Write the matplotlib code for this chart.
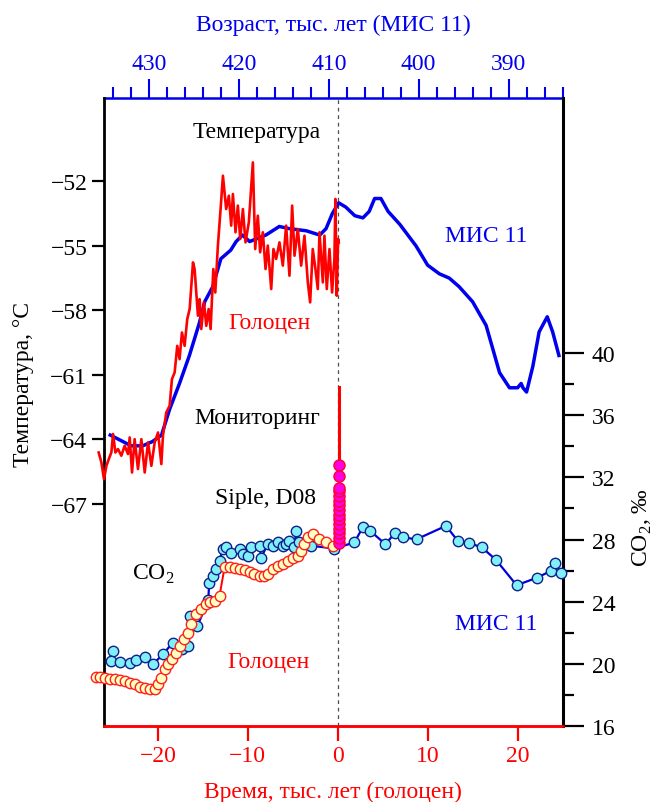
import matplotlib
matplotlib.use('Agg')
import matplotlib.pyplot as plt
from matplotlib.ticker import MultipleLocator, FixedLocator

plt.rcParams['font.family'] = ['Liberation Serif', 'DejaVu Serif']
plt.rcParams['mathtext.fontset'] = 'custom'
plt.rcParams['mathtext.rm'] = 'Liberation Serif'
plt.rcParams['axes.unicode_minus'] = True

# температура МИС 11 (синяя линия), x - тыс. лет относительно голоцена
t_mis_x = [-25.3, -23.9, -23.0, -21.7, -20.6, -19.6, -18.7, -17.6, -16.5, -15.4, -14.8, -13.9,
           -13.0, -11.9, -11.3, -10.6, -9.8, -8.0, -6.5, -5.4, -3.5, -2.0, -1.3, -0.6, 0.1,
           0.9, 1.9, 2.8, 3.5, 4.1, 4.8, 5.6, 6.9, 8.7, 10.0, 11.3, 12.4, 13.5, 15.0, 16.5,
           18.0, 19.1, 20.0, 20.4, 20.6, 21.0, 21.7, 22.4, 23.3, 23.9, 24.6]
t_mis_y = [-63.8, -64.1, -64.3, -64.3, -64.1, -63.8, -62.6, -61.4, -60.1, -58.6, -57.6, -56.9,
           -55.6, -55.2, -54.8, -54.5, -54.8, -54.5, -54.1, -54.2, -54.3, -54.5, -54.2, -53.5, -53.0,
           -53.2, -53.6, -53.7, -53.4, -52.8, -52.8, -53.4, -54.0, -55.0, -55.9, -56.3, -56.5, -56.9,
           -57.6, -58.7, -60.9, -61.6, -61.6, -61.4, -61.6, -61.8, -60.6, -59.0, -58.3, -59.0, -60.1]

# температура голоцен (красная линия)
t_hol_x = [-26.59, -26.29, -26.0, -25.73, -25.47, -25.18, -24.99, -24.73, -24.44, -24.07, -23.70,
           -23.33, -23.14, -22.88, -22.59, -22.22, -21.84, -21.47, -21.10, -20.73, -20.36, -19.99,
           -19.62, -19.44, -19.07, -18.70, -18.44, -18.14, -17.85, -17.59, -17.33, -17.03, -16.74,
           -16.47, -16.10, -15.92, -15.55, -15.36, -15.18, -14.88, -14.62, -14.36, -14.14, -13.84,
           -13.62, -13.33, -13.03, -12.77, -12.41, -12.11, -11.85, -11.66, -11.37, -11.11, -10.85,
           -10.55, -10.26, -9.89, -9.44, -9.18, -8.89, -8.63, -8.33, -8.03, -7.78, -7.40, -7.15,
           -6.85, -6.48, -6.11, -5.74, -5.37, -5.07, -4.81, -4.44, -4.07, -3.70, -3.33, -3.07,
           -2.78, -2.48, -2.22, -2.03, -1.66, -1.48, -1.22, -0.92, -0.63, -0.37, -0.26, -0.11,
           0.04, 0.11]
t_hol_y = [-64.61, -65.07, -65.85, -65.23, -64.92, -64.61, -63.75, -64.61, -64.45, -64.76, -64.30,
           -64.68, -63.91, -65.54, -63.99, -65.38, -63.99, -65.54, -64.14, -65.23, -64.14, -63.68,
           -65.15, -63.83, -62.75, -62.44, -61.20, -60.89, -59.65, -60.27, -59.03, -59.65, -58.41,
           -57.94, -55.77, -56.08, -58.25, -57.48, -58.87, -57.63, -58.72, -57.94, -58.87, -56.08,
           -57.17, -54.99, -53.29, -51.74, -53.29, -52.67, -54.06, -52.59, -54.37, -53.13, -54.68,
           -53.29, -54.84, -53.91, -51.12, -55.15, -53.60, -55.30, -54.37, -56.08, -54.99, -57.01,
           -55.15, -55.61, -54.84, -55.92, -54.06, -56.39, -53.13, -55.46, -54.22, -55.92, -54.53,
           -56.70, -57.63, -55.15, -56.08, -57.01, -54.37, -56.70, -54.53, -57.01, -55.15, -57.17,
           -55.61, -52.82, -57.32, -54.68, -54.84]

# CO2 МИС 11 (голубые кружки)
co2_mis_x = [-25.0, -25.18, -24.25, -23.14, -22.40, -21.47, -20.55, -19.44, -18.33, -17.33, -16.66,
             -16.4, -15.6, -14.4, -14.3, -13.9, -13.5, -13.15, -12.8, -12.4, -11.85, -10.92, -10.55,
             -10.0, -9.63, -8.70, -8.52, -7.78, -7.22, -6.66, -6.11, -5.74, -5.37, -4.81, -4.63,
             -4.26, -2.96, -0.37, 1.85, 2.78, 3.60, 5.30, 6.41, 7.23, 8.78, 12.04, 13.34, 14.63,
             16.04, 17.60, 19.89, 22.11, 23.71, 24.19, 24.82]
co2_mis_y = [20.83, 20.19, 20.12, 20.08, 20.25, 20.47, 19.97, 20.62, 21.37, 20.94, 21.16,
             23.1, 22.45, 24.1, 25.2, 25.66, 26.09, 26.63, 27.38, 27.49, 27.16, 27.38, 27.06,
             26.95, 27.49, 27.59, 26.84, 27.70, 27.59, 27.81, 27.59, 27.70, 27.92, 27.49, 28.56,
             27.81, 27.6, 27.42, 27.81, 28.78, 28.56, 27.70, 28.45, 28.13, 28.02, 28.88, 27.92, 27.77,
             27.49, 26.69, 25.06, 25.53, 25.98, 26.52, 25.83]

# CO2 голоцен (желтые кружки)
co2_hol_x = [-26.84, -26.4, -25.92, -25.36, -24.81, -24.25, -23.70, -23.14, -22.59, -22.03, -21.47,
             -20.92, -20.36, -19.99, -19.62, -19.25, -18.88, -18.44, -17.96, -17.59, -17.10, -16.66,
             -16.29, -15.74, -15.18, -14.62, -14.26, -13.70, -13.15, -12.59, -12.03, -11.48, -10.92,
             -10.37, -9.81, -9.26, -8.70, -8.15, -7.78, -7.22, -6.66, -6.11, -5.55, -5.0, -4.44,
             -4.07, -3.70, -3.33, -2.78, -2.03, -1.29, -0.55]
co2_hol_y = [19.18, 19.16, 19.12, 19.05, 19.01, 18.97, 18.90, 18.79, 18.69, 18.54, 18.47,
             18.37, 18.41, 18.69, 19.12, 19.65, 19.97, 20.30, 20.73, 21.16, 21.58, 22.01,
             22.55, 23.19, 23.52, 23.84, 23.95, 24.05, 24.37, 26.20, 26.20, 26.16, 26.09,
             26.03, 25.94, 25.81, 25.66, 25.66, 25.81, 26.09, 26.31, 26.41, 26.63, 26.84, 26.95,
             27.27, 27.70, 28.13, 28.35, 28.02, 27.81, 27.6]

# Siple, D08 и мониторинг
siple_x = [0.1] * 15
siple_y = [27.8, 28.1, 28.4, 28.7, 29.0, 29.3, 29.6, 29.9, 30.2, 30.5, 30.8, 31.1, 31.3, 32.1, 32.8]
mon_x = [0.1, 0.1]
mon_y = [31.5, 37.8]

fig = plt.figure(figsize=(6.56, 8.03), dpi=100)
ax = fig.add_axes([0.1585, 0.0946, 0.699, 0.782])
ax.set_xlim(-26, 25)
ax.set_ylim(-77.33, -48.13)
ax2 = ax.twinx()
ax2.set_ylim(16, 56.4)

ax.axvline(0, color='0.3', lw=0.9, ls=(0, (3, 3)), zorder=1)

ax.plot(t_mis_x, t_mis_y, color='#0000ee', lw=2.5, zorder=3)
ax.plot(t_hol_x, t_hol_y, color='#ff0000', lw=1.9, zorder=4, clip_on=False)

ax2.plot(co2_mis_x, co2_mis_y, color='#0000dd', lw=1.6, marker='o', ms=7.5,
         mfc='#80f0f8', mec='#10208a', mew=1.0, zorder=3, clip_on=False)
ax2.plot(co2_hol_x, co2_hol_y, color='#ff0000', lw=1.4, marker='o', ms=7.5,
         mfc='#ffffc0', mec='#ff2020', mew=1.0, zorder=4, clip_on=False)
ax2.plot(mon_x, mon_y, color='#ff0000', lw=2.2, zorder=5)
ax2.plot(siple_x, siple_y, color='#ff0000', lw=1.5, marker='o', ms=8,
         mfc='#ff00e0', mec='#ff0030', mew=1.0, zorder=6)

fs = 17
ax.text(-9.0, -49.7, 'Температура', fontsize=fs, ha='center', va='center', color='black')
ax.text(16.5, -54.5, 'МИС 11', fontsize=fs, ha='center', va='center', color='#0000ee')
ax.text(-7.6, -58.55, 'Голоцен', fontsize=fs, ha='center', va='center', color='#ff0000')
ax.text(-9.0, -62.96, 'Мониторинг', fontsize=fs, ha='center', va='center', color='black')
ax.text(-8.0, -66.68, 'Siple, D08', fontsize=fs, ha='center', va='center', color='black')
ax.text(-20.5, -70.22, r'CO$_\mathregular{2}$', fontsize=fs, ha='center', va='center', color='black')
ax.text(17.6, -72.54, 'МИС 11', fontsize=fs, ha='center', va='center', color='#0000ee')
ax.text(-7.7, -74.31, 'Голоцен', fontsize=fs, ha='center', va='center', color='#ff0000')

# оси
ax.spines['top'].set_visible(False)
ax.spines['right'].set_visible(False)
ax2.spines['top'].set_visible(False)
ax2.spines['left'].set_visible(False)
for a in (ax, ax2):
    a.spines['bottom'].set_color('#ff0000')
    a.spines['bottom'].set_linewidth(1.8)
ax.spines['left'].set_linewidth(2.0)
ax2.spines['right'].set_linewidth(2.2)

ax.set_xticks([-20, -10, 0, 10, 20])
ax.tick_params(axis='x', colors='#ff0000', direction='out', length=11, width=1.6,
               labelsize=fs, pad=3)
ax.set_xlabel('Время, тыс. лет (голоцен)', fontsize=fs, color='#ff0000', labelpad=10)

ax.set_yticks([-67, -64, -61, -58, -55, -52])
ax.tick_params(axis='y', direction='out', length=9, width=1.6, labelsize=fs, pad=3)
ax.set_ylabel('Температура, °C', fontsize=fs)
ax.yaxis.set_label_coords(-0.152, 0.545)

ax2.yaxis.set_major_locator(FixedLocator(range(16, 41, 4)))
ax2.yaxis.set_minor_locator(FixedLocator(range(18, 40, 4)))
ax2.tick_params(axis='y', which='major', direction='out', length=15, width=1.6,
                labelsize=fs, pad=6)
ax2.tick_params(axis='y', which='minor', direction='out', length=8, width=1.6)
ax2.set_ylabel(r'CO$_\mathregular{2}$, ‰', fontsize=fs)
ax2.yaxis.set_label_coords(1.148, 0.318)

top = ax.secondary_xaxis('top', functions=(lambda x: 409 - x, lambda a: 409 - a))
top.xaxis.set_major_locator(MultipleLocator(10))
top.xaxis.set_minor_locator(MultipleLocator(2))
top.tick_params(which='major', colors='#0000ee', direction='out', length=14, width=1.5,
                labelsize=fs, pad=3)
top.tick_params(which='minor', colors='#0000ee', direction='out', length=8, width=1.5)
top.spines['top'].set_color('#0000ee')
top.spines['top'].set_linewidth(1.8)
top.set_xlabel('Возраст, тыс. лет (МИС 11)', fontsize=fs, color='#0000ee', labelpad=17)

fig.savefig('out.png', dpi=100)
